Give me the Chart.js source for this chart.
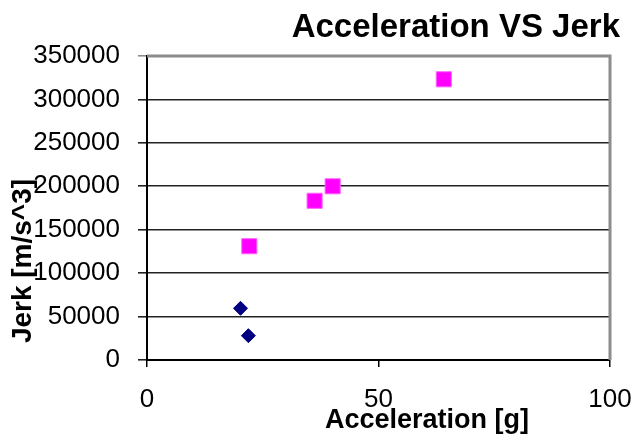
<!DOCTYPE html>
<html>
<head>
<meta charset="utf-8">
<script src="https://cdn.jsdelivr.net/npm/chart.js@4"></script>
<style>
  html, body { margin: 0; padding: 0; background: #fff; }
  #wrap { width: 634px; height: 436px; }
</style>
</head>
<body>
<div id="wrap"><canvas id="chart" width="634" height="436"></canvas></div>
<script>
// Data
const accelBlue = [20.2, 21.9];
const jerkBlue = [59500, 28000];
const accelPink = [22.1, 36.2, 40.1, 64.1];
const jerkPink = [131000, 183300, 200000, 323200];

const xTicks = [0, 50, 100];
const yTicks = [0, 50000, 100000, 150000, 200000, 250000, 300000, 350000];

const titleText = "Acceleration VS Jerk";
const xTitle = "Acceleration [g]";
const yTitle = "Jerk [m/s^3]";

const FONT = "'Liberation Sans', Arial, sans-serif";

// Title and axis titles sit off-centre in the original, so draw them by hand
const textPlugin = {
    id: 'texts',
    beforeDatasetsDraw(chart) {
        const { ctx, chartArea } = chart;
        // grey frame on top and right
        ctx.save();
        ctx.strokeStyle = '#8c8c8c';
        ctx.lineWidth = 3;
        ctx.beginPath();
        ctx.moveTo(chartArea.left, chartArea.top);
        ctx.lineTo(chartArea.right, chartArea.top);
        ctx.lineTo(chartArea.right, chartArea.bottom);
        ctx.stroke();
        ctx.restore();
    },
    afterDraw(chart) {
        const { ctx } = chart;
        ctx.save();
        ctx.fillStyle = '#000';
        ctx.textBaseline = 'alphabetic';

        ctx.font = `bold 33px ${FONT}`;
        ctx.textAlign = 'right';
        ctx.fillText(titleText, 620, 37);

        ctx.font = `bold 27px ${FONT}`;
        ctx.textAlign = 'center';
        ctx.fillText(xTitle, 427, 428);

        ctx.translate(31, 261);
        ctx.rotate(-Math.PI / 2);
        ctx.font = `bold 28px ${FONT}`;
        ctx.fillText(yTitle, 0, 0);
        ctx.restore();
    }
};

new Chart(document.getElementById('chart'), {
    type: 'scatter',
    data: {
        datasets: [
            {
                label: 'blue',
                data: accelBlue.map((a, i) => ({ x: a, y: jerkBlue[i] })),
                pointStyle: 'rectRot',
                pointRadius: 7,
                pointBorderWidth: 1,
                backgroundColor: '#000080',
                borderColor: '#000080'
            },
            {
                label: 'pink',
                data: accelPink.map((a, i) => ({ x: a, y: jerkPink[i] })),
                pointStyle: 'rect',
                pointRadius: 10.7,
                pointBorderWidth: 1,
                backgroundColor: '#ff00ff',
                borderColor: '#ff66ff'
            }
        ]
    },
    options: {
        responsive: false,
        animation: false,
        layout: { padding: { top: 56, right: 24, left: 0, bottom: 0 } },
        plugins: {
            legend: { display: false },
            tooltip: { enabled: false },
            title: { display: false }
        },
        scales: {
            x: {
                type: 'linear',
                min: xTicks[0],
                max: xTicks[xTicks.length - 1],
                afterFit: s => {
                    s.height = 76;
                    // "100" may hang past the plot edge, like the original
                    s.paddingLeft = 0;
                    s.paddingRight = 0;
                },
                afterBuildTicks: s => { s.ticks = xTicks.map(v => ({ value: v })); },
                grid: { drawOnChartArea: false, color: '#000', lineWidth: 1.5, tickLength: 7 },
                border: { color: '#000', width: 2 },
                ticks: {
                    color: '#000',
                    padding: 17,
                    maxRotation: 0,
                    font: { family: FONT, size: 26 },
                    callback: v => String(v)
                }
            },
            y: {
                type: 'linear',
                min: yTicks[0],
                max: yTicks[yTicks.length - 1],
                afterFit: s => { s.width = 147; },
                afterBuildTicks: s => { s.ticks = yTicks.map(v => ({ value: v })); },
                grid: {
                    color: ctx => ctx.tick && ctx.tick.value === yTicks[yTicks.length - 1] ? '#8c8c8c' : '#222',
                    lineWidth: 1.6,
                    tickLength: 9
                },
                border: { color: '#000', width: 2 },
                ticks: {
                    color: '#000',
                    padding: 18,
                    font: { family: FONT, size: 26 },
                    callback: v => String(v)
                }
            }
        }
    },
    plugins: [textPlugin]
});
</script>
</body>
</html>
